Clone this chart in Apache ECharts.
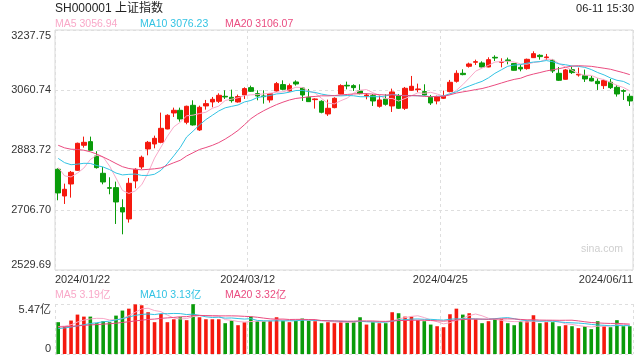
<!DOCTYPE html>
<html><head><meta charset="utf-8">
<script src="https://cdn.jsdelivr.net/npm/echarts@6/dist/echarts.min.js"></script>
<style>html,body{margin:0;padding:0;background:#fff}#c{width:640px;height:360px}</style>
</head><body><div id="c"></div>
<script>
const dates = ['2024-01-22','2024-01-23','2024-01-24','2024-01-25','2024-01-26','2024-01-29','2024-01-30','2024-01-31',
'2024-02-01','2024-02-02','2024-02-05','2024-02-06','2024-02-07','2024-02-08','2024-02-19','2024-02-20','2024-02-21','2024-02-22','2024-02-23','2024-02-26','2024-02-27','2024-02-28','2024-02-29',
'2024-03-01','2024-03-04','2024-03-05','2024-03-06','2024-03-07','2024-03-08','2024-03-11','2024-03-12','2024-03-13','2024-03-14','2024-03-15','2024-03-18','2024-03-19','2024-03-20','2024-03-21','2024-03-22','2024-03-25','2024-03-26','2024-03-27','2024-03-28','2024-03-29',
'2024-04-01','2024-04-02','2024-04-03','2024-04-08','2024-04-09','2024-04-10','2024-04-11','2024-04-12','2024-04-15','2024-04-16','2024-04-17','2024-04-18','2024-04-19','2024-04-22','2024-04-23','2024-04-24','2024-04-25','2024-04-26','2024-04-29','2024-04-30',
'2024-05-06','2024-05-07','2024-05-08','2024-05-09','2024-05-10','2024-05-13','2024-05-14','2024-05-15','2024-05-16','2024-05-17','2024-05-20','2024-05-21','2024-05-22','2024-05-23','2024-05-24','2024-05-27','2024-05-28','2024-05-29','2024-05-30','2024-05-31',
'2024-06-03','2024-06-04','2024-06-05','2024-06-06','2024-06-07','2024-06-11'];

const opens = [2826.8,2748.1,2783.5,2823.8,2897.6,2908.4,2866.1,2815.0,2772.7,2772.7,
2713.7,2680.3,2792.4,2833.7,2886.8,2901.5,2906.4,2945.8,2993.0,3000.9,
2965.5,3015.6,2942.9,3013.7,3025.5,3027.4,3042.2,3039.2,3025.5,3046.1,
3067.7,3050.0,3043.1,3031.4,3057.9,3076.6,3057.9,3084.4,3066.7,3039.2,
3032.3,3027.4,2990.1,3008.7,3049.0,3074.6,3073.6,3057.9,3043.1,3044.1,
3012.7,3034.3,3013.7,3043.1,3006.8,3059.9,3061.8,3056.0,3039.2,3028.4,
3036.3,3056.0,3086.4,3110.0,3130.7,3142.5,3140.5,3128.7,3157.2,3142.5,
3149.4,3138.6,3127.7,3123.8,3156.2,3163.1,3156.2,3148.4,3110.0,3092.3,
3120.8,3105.1,3103.1,3095.3,3086.4,3073.6,3083.5,3068.7,3058.9,3042.2];

const closes = [2757.0,2767.8,2817.9,2903.5,2906.4,2882.8,2831.7,2789.4,2770.7,2730.4,
2700.9,2785.5,2826.8,2862.2,2906.4,2918.2,2947.7,2986.1,3000.9,2975.3,
3012.7,2957.6,3009.7,3020.5,3033.3,3045.1,3040.2,3029.4,3041.2,3064.8,
3056.9,3043.1,3041.2,3050.0,3079.5,3062.8,3073.6,3078.5,3046.1,3026.4,
3034.3,2995.0,3006.8,3036.3,3073.6,3072.7,3067.7,3050.0,3046.1,3028.4,
3031.4,3018.5,3055.0,3006.8,3065.8,3071.7,3063.8,3046.1,3022.5,3040.2,
3043.1,3083.5,3110.0,3106.1,3137.5,3144.4,3128.7,3150.3,3155.2,3144.4,
3147.4,3118.9,3122.8,3151.3,3168.0,3159.2,3158.2,3116.9,3089.4,3119.9,
3112.0,3107.1,3093.3,3087.4,3079.5,3088.4,3067.7,3049.0,3056.9,3028.4];

const lows = [2735.4,2724.5,2743.2,2821.9,2890.7,2881.9,2828.8,2782.5,2753.1,2665.5,
2635.0,2669.5,2770.7,2827.8,2868.1,2888.7,2903.5,2944.8,2981.2,2967.4,
2959.6,2955.6,2940.0,3002.8,3009.7,3022.5,3034.3,3023.5,3023.5,3034.3,
3055.0,3030.4,3020.5,3023.5,3056.0,3059.9,3056.0,3073.6,3028.4,3025.5,
3005.8,2992.0,2984.2,3006.8,3048.1,3062.8,3057.9,3048.1,3033.3,3013.7,
3008.7,3014.6,2996.0,3004.8,3001.9,3057.9,3054.0,3044.1,3016.6,3018.5,
3034.3,3054.0,3082.5,3104.1,3126.8,3134.6,3127.7,3127.7,3146.4,3127.7,
3136.6,3117.9,3115.9,3120.8,3155.2,3150.3,3149.4,3111.0,3087.4,3091.4,
3108.1,3100.2,3084.4,3086.4,3060.9,3063.8,3063.8,3041.2,3031.4,3013.7];

const highs = [2829.7,2784.5,2821.9,2905.5,2923.2,2923.2,2879.9,2833.7,2803.2,2790.4,
2738.3,2801.2,2829.7,2867.1,2910.4,2926.1,2994.0,2989.1,3008.7,3008.7,
3014.6,3030.4,3014.6,3031.4,3040.2,3051.0,3059.9,3061.8,3047.1,3068.7,
3073.6,3059.9,3059.9,3052.0,3084.4,3089.3,3079.5,3089.3,3068.7,3063.8,
3036.3,3030.4,3032.3,3039.2,3077.6,3085.4,3077.6,3077.6,3051.0,3049.0,
3046.1,3048.1,3064.8,3049.0,3069.7,3102.2,3079.5,3077.6,3046.1,3044.1,
3058.9,3090.4,3118.9,3121.8,3141.5,3150.3,3145.4,3157.2,3163.1,3154.3,
3156.2,3140.5,3135.6,3153.3,3174.9,3166.1,3167.1,3152.3,3128.7,3122.8,
3129.7,3126.8,3120.8,3102.2,3095.3,3093.3,3093.3,3075.6,3062.8,3050.0];

// volume, in 亿
const volumes = [3.48,3.01,3.66,4.31,4.09,4.09,3.37,3.59,3.48,4.20,
4.75,4.96,5.43,5.33,4.57,3.48,4.38,3.48,3.80,4.02,
3.70,5.45,4.02,3.80,3.80,3.80,3.37,3.66,3.15,3.48,
4.09,3.59,3.59,3.59,4.02,3.66,3.48,3.66,3.88,3.66,
3.59,3.37,3.48,3.37,3.59,3.48,3.48,4.02,3.22,3.48,
3.37,3.37,4.57,4.46,4.09,4.09,3.70,3.59,3.22,3.04,
2.93,4.35,4.96,4.31,4.46,3.80,3.37,3.59,3.80,3.80,
3.37,3.15,3.59,3.59,4.24,3.37,3.48,3.48,3.04,3.15,
3.04,2.83,3.04,2.72,3.59,3.04,2.93,3.70,3.04,3.04];

// moving-average values at the start of the window
const ma5Head = [2832.5,2807.3,2804.2,2815.7];
const ma10Head = [2858.9,2846.3,2840.3,2842.0,2844.5,2844.1,2837.9,2833.5,2825.9];
const ma20Head = [2897.6,2890.0,2886.0,2885.4,2883.0,2878.4,2871.8,2863.0,2853.8,2843.8,2834.5,2829.1,2826.6,2825.3,2826.6,2828.2,2830.8,2838.5,2846.2];
const vma5Head = [3.0,3.05,3.2,3.5];
const vma10Head = [2.78,2.85,2.95,3.08,3.2,3.33,3.42,3.52,3.6];
const vma20Head = [2.95,2.98,3.02,3.08,3.13,3.18,3.22,3.27,3.31,3.37,3.45,3.53,3.62,3.7,3.78,3.82,3.9,3.95,4.0];

const priceTicks = ['2529.69','2706.70','2883.72','3060.74','3237.75'];
const volTicks = ['0','5.47亿'];
const xLabels = ['2024/01/22','2024/03/12','2024/04/25','2024/06/11'];

const title = 'SH000001 上证指数';
const timeText = '06-11 15:30';
const priceLegend = ['MA5 3056.94','MA10 3076.23','MA20 3106.07'];
const volLegend = ['MA5 3.19亿','MA10 3.13亿','MA20 3.32亿'];

const UP = '#f5190e', DOWN = '#0a9b0a';
const C5 = '#f9a8c8', C10 = '#33c3e3', C20 = '#ea4c80';
const FONT = '"Liberation Sans", Arial, "Noto Sans CJK SC", sans-serif';

function ma(arr, n, head) {
  return arr.map((_, i) => {
    if (i < n - 1) return head[i];
    let s = 0; for (let k = i - n + 1; k <= i; k++) s += arr[k];
    return +(s / n).toFixed(3);
  });
}

const pMin = 2529.69, pMax = 3237.75, pInt = (pMax - pMin) / 4;
const vMax = 5.47;

const candleData = opens.map((o, i) => [o, closes[i], lows[i], highs[i]]);
const volData = volumes.map((v, i) => ({ value: v, itemStyle: { color: closes[i] >= opens[i] ? UP : DOWN } }));

const chart = echarts.init(document.getElementById('c'), null, { renderer: 'canvas' });
const gridLine = { color: '#dedede', width: 1, type: [3, 3] };
const lineSeries = (name, data, color, xi, yi) => ({
  name, type: 'line', data, xAxisIndex: xi, yAxisIndex: yi, showSymbol: false, symbol: 'none',
  smooth: false, lineStyle: { color, width: 1 }, silent: true, z: 3
});

chart.setOption({
  animation: false,
  textStyle: { fontFamily: FONT },
  grid: [
    { left: 55, top: 30, width: 578, height: 240, show: true, borderColor: '#d9d9d9', borderWidth: 1, backgroundColor: 'transparent' },
    { left: 55, top: 304, width: 578, height: 50, show: false }
  ],
  xAxis: [
    { type: 'category', gridIndex: 0, data: dates, boundaryGap: true, axisLine: { show: false }, axisTick: { show: false }, axisLabel: { show: false }, splitLine: { show: false } },
    { type: 'category', gridIndex: 1, data: dates, boundaryGap: true, axisLine: { show: false }, axisTick: { show: false }, axisLabel: { show: false }, splitLine: { show: false } },
    { type: 'value', gridIndex: 0, min: 0, max: 3, interval: 1, position: 'bottom', axisLine: { show: false }, axisTick: { show: false },
      axisLabel: { show: true, formatter: v => xLabels[Math.round(v)], color: '#333', fontSize: 11, fontFamily: FONT, margin: 4, alignMinLabel: 'left', alignMaxLabel: 'right' },
      splitLine: { show: true, lineStyle: gridLine } },
    { type: 'value', gridIndex: 1, min: 0, max: 3, interval: 1, axisLine: { show: false }, axisTick: { show: false }, axisLabel: { show: false },
      splitLine: { show: true, lineStyle: gridLine } }
  ],
  yAxis: [
    { type: 'value', gridIndex: 0, min: pMin, max: pMax, interval: pInt, axisLine: { show: false }, axisTick: { show: false },
      axisLabel: { formatter: v => priceTicks[Math.round((v - pMin) / pInt)], color: '#333', fontSize: 11, fontFamily: FONT, margin: 4,
        verticalAlignMinLabel: 'bottom', verticalAlignMaxLabel: 'top' },
      splitLine: { show: true, lineStyle: gridLine } },
    { type: 'value', gridIndex: 1, min: 0, max: vMax, interval: vMax, axisLine: { show: false }, axisTick: { show: false },
      axisLabel: { formatter: v => volTicks[Math.round(v / vMax)], color: '#333', fontSize: 11, fontFamily: FONT, margin: 4,
        verticalAlignMinLabel: 'bottom', verticalAlignMaxLabel: 'top' },
      splitLine: { show: true, lineStyle: gridLine } }
  ],
  series: [
    { type: 'candlestick', xAxisIndex: 0, yAxisIndex: 0, data: candleData, barWidth: 5, silent: true, z: 2,
      itemStyle: { color: UP, color0: DOWN, borderColor: UP, borderColor0: DOWN, borderWidth: 1 } },
    lineSeries('MA5', ma(closes, 5, ma5Head), C5, 0, 0),
    lineSeries('MA10', ma(closes, 10, ma10Head), C10, 0, 0),
    lineSeries('MA20', ma(closes, 20, ma20Head), C20, 0, 0),
    { type: 'bar', xAxisIndex: 1, yAxisIndex: 1, data: volData, barWidth: 3.6, silent: true, z: 2 },
    lineSeries('VMA5', ma(volumes, 5, vma5Head), C5, 1, 1),
    lineSeries('VMA10', ma(volumes, 10, vma10Head), C10, 1, 1),
    lineSeries('VMA20', ma(volumes, 20, vma20Head), C20, 1, 1)
  ],
  graphic: [
    { type: 'text', x: 55, y: 9, style: { text: title, fill: '#222', font: '12px ' + FONT, verticalAlign: 'middle' } },
    { type: 'text', x: 634, y: 9, style: { text: timeText, fill: '#222', font: '11px ' + FONT, align: 'right', verticalAlign: 'middle' } },
    { type: 'text', x: 55, y: 24, style: { text: priceLegend[0], fill: C5, font: '10.5px ' + FONT, verticalAlign: 'middle' } },
    { type: 'text', x: 140, y: 24, style: { text: priceLegend[1], fill: C10, font: '10.5px ' + FONT, verticalAlign: 'middle' } },
    { type: 'text', x: 225, y: 24, style: { text: priceLegend[2], fill: C20, font: '10.5px ' + FONT, verticalAlign: 'middle' } },
    { type: 'text', x: 55, y: 295, style: { text: volLegend[0], fill: C5, font: '10.5px ' + FONT, verticalAlign: 'middle' } },
    { type: 'text', x: 140, y: 295, style: { text: volLegend[1], fill: C10, font: '10.5px ' + FONT, verticalAlign: 'middle' } },
    { type: 'text', x: 225, y: 295, style: { text: volLegend[2], fill: C20, font: '10.5px ' + FONT, verticalAlign: 'middle' } },
    { type: 'text', x: 602, y: 249, z: 0, style: { text: 'sina.com', fill: '#cfcfcf', font: '10.5px ' + FONT, align: 'center', verticalAlign: 'middle' } }
  ]
});
</script></body></html>
